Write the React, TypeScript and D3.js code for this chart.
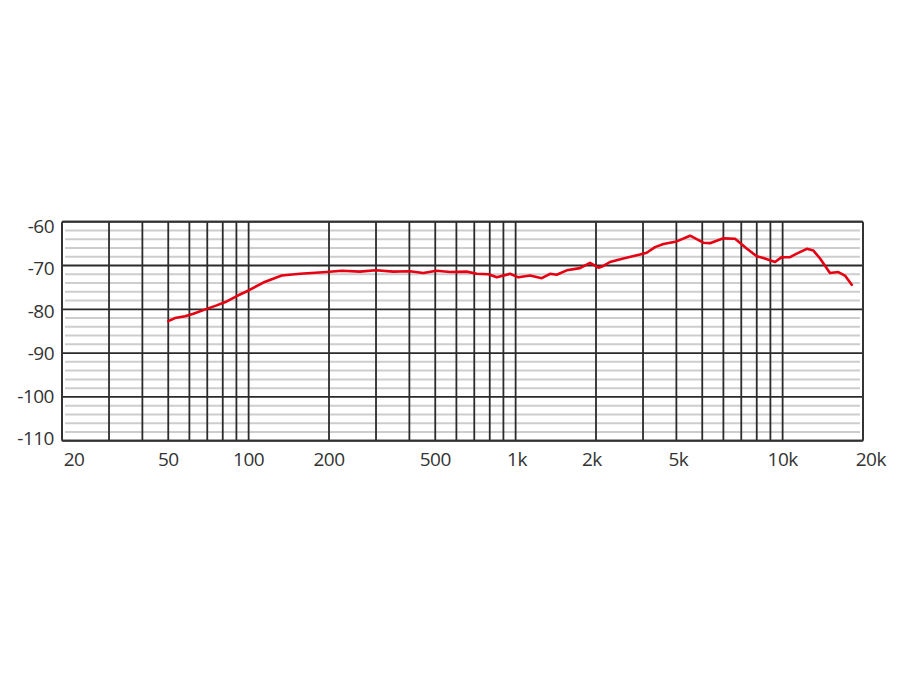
import React from "react";
import * as d3 from "d3";

const freqHz = [50, 53, 57.8, 62.1, 69.7, 75.9, 82.8, 91.5, 100, 113.5, 133, 155.8, 196, 223, 261, 300, 348, 402, 451, 506, 568, 656, 715, 791, 850, 953, 1024, 1133, 1253, 1346, 1425, 1554, 1742, 1900, 2043, 2130, 2256, 2531, 2923, 3097, 3328, 3578, 4010, 4500, 5048, 5346, 5997, 6637, 7334, 7998, 8471, 9367, 9921, 10665, 11290, 12320, 13040, 13810, 15040, 16160, 17120, 18150];
const levelDb = [-82.7, -82.0, -81.6, -81.0, -79.9, -79.1, -78.2, -76.8, -75.7, -73.9, -72.3, -71.9, -71.5, -71.2, -71.4, -71.1, -71.4, -71.3, -71.7, -71.2, -71.5, -71.4, -71.9, -72.0, -72.7, -71.9, -72.7, -72.3, -72.9, -71.9, -72.1, -71.1, -70.6, -69.4, -70.5, -70.1, -69.2, -68.4, -67.5, -67.1, -65.8, -65.1, -64.5, -63.2, -64.8, -64.9, -63.8, -63.9, -66.1, -67.9, -68.3, -69.2, -68.1, -68.1, -67.3, -66.2, -66.6, -68.4, -71.7, -71.5, -72.3, -74.4];

const gridFreqs = [30, 40, 50, 60, 70, 80, 90, 100, 200, 300, 400, 500, 600, 700, 800, 900, 1000, 2000, 3000, 4000, 5000, 6000, 7000, 8000, 9000, 10000];
const majorDb = [-60, -70, -80, -90, -100, -110];
const minorDb = [-62, -64, -66, -68, -72, -74, -76, -78, -82, -84, -86, -88, -92, -94, -96, -98, -102, -104, -106, -108];
const yLabels = ["-60", "-70", "-80", "-90", "-100", "-110"];
const xLabelText = ["20", "50", "100", "200", "500", "1k", "2k", "5k", "10k", "20k"];
const xLabelAt = [22.2, 50, 100, 200, 500, 1012, 1930, 4070, 10000, 21400];

export default function App() {
  const left = 62, right = 863, top = 221.7, bottom = 440.7;
  const x = d3.scaleLog().domain([20, 20000]).range([left, right]);
  const y = d3.scaleLinear().domain([-60, -110]).range([top, bottom]);
  const yLab = d3.scaleLinear().domain([-60, -110]).range([233, 445]);
  const line = d3
    .line<number>()
    .x((_, i) => x(freqHz[i]))
    .y((d) => y(d));
  const font = "'Open Sans', 'DejaVu Sans', sans-serif";
  return (
    <svg width={900} height={675} style={{ position: "absolute", left: 0, top: 0, background: "#fff" }}>
      <rect x={0} y={0} width={900} height={675} fill="#fff" />
      {minorDb.map((v) => (
        <line key={"mi" + v} x1={left + 3} x2={right - 3} y1={y(v)} y2={y(v)} stroke="#cdcdcd" strokeWidth={2} />
      ))}
      {majorDb.map((v) => (
        <line key={"ma" + v} x1={left} x2={right} y1={y(v)} y2={y(v)} stroke="#2b2b2b" strokeWidth={1.8} />
      ))}
      {gridFreqs.map((f) => (
        <line key={"v" + f} x1={x(f)} x2={x(f)} y1={top} y2={bottom} stroke="#2b2b2b" strokeWidth={1.8} />
      ))}
      <rect x={left} y={top} width={right - left} height={bottom - top} fill="none" stroke="#333" strokeWidth={2} rx={1.5} />
      <path d={line(levelDb) || ""} fill="none" stroke="#e60012" strokeWidth={2.6} strokeLinejoin="round" strokeLinecap="round" />
      {majorDb.map((v, i) => (
        <text key={"yl" + v} x={54} y={yLab(v)} textAnchor="end" fontFamily={font} fontSize={19} fill="#333" letterSpacing={-0.5}>
          {yLabels[i]}
        </text>
      ))}
      {xLabelText.map((t, i) => (
        <text key={"xl" + t} x={x(xLabelAt[i])} y={466} textAnchor="middle" fontFamily={font} fontSize={19} fill="#333" letterSpacing={-0.5}>
          {t}
        </text>
      ))}
    </svg>
  );
}
